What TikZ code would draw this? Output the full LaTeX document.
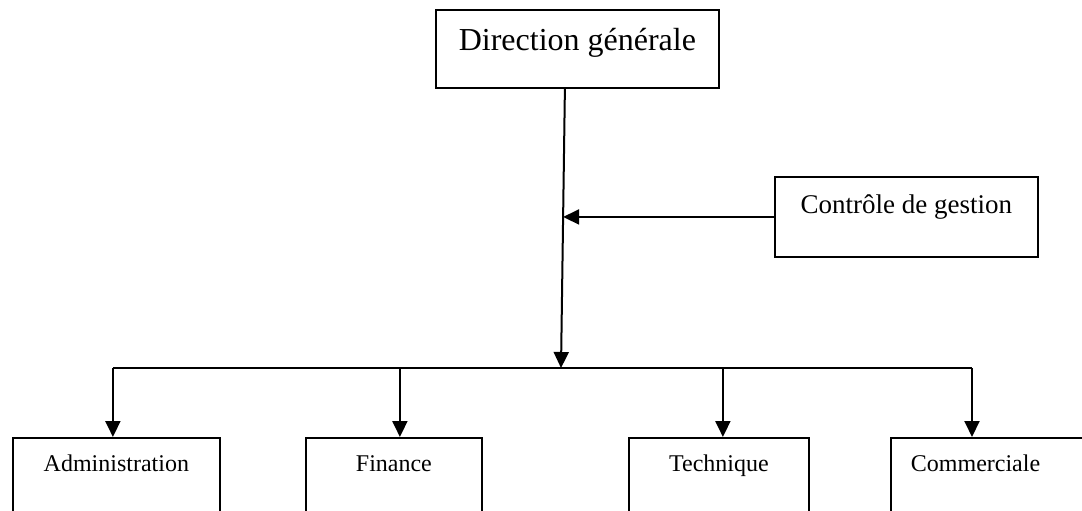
\documentclass[tikz,border=0pt]{standalone}
\usepackage{fontspec}
\setmainfont{Liberation Serif}
\usetikzlibrary{arrows.meta,calc}
\begin{document}
\begin{tikzpicture}[x=1pt,y=-1pt,line width=2pt,
  box/.style={draw,line width=1.8pt,inner sep=0pt,anchor=north west},
  lower/.style={box,text height=34pt,text depth=100pt,font=\fontsize{24}{29}\selectfont},
  arr/.style={-{Triangle[length=16pt,width=15pt]}}]
\useasboundingbox (0,0) rectangle (1082,511);
\clip (0,0) rectangle (1082,511);
\node[box,minimum width=283pt,text height=41pt,text depth=37pt,font=\fontsize{32}{38}\selectfont] (dg) at (435,9) {Direction générale};
\node[box,minimum width=263pt,text height=37pt,text depth=43pt,font=\fontsize{27}{32}\selectfont] (cg) at (774,176) {Contrôle de gestion};
\node[lower,minimum width=207pt] (adm) at (12,437) {Administration};
\node[lower,minimum width=176pt] (fin) at (305,437) {Finance};
\node[lower,minimum width=180pt] (tec) at (628,437) {Technique};
\node[lower,text width=190pt,align=left,inner xsep=20pt] (com) at (890,437) {Commerciale};
\coordinate (top) at ($(dg.south)+(-12.5,0)$);
\coordinate (hub) at (561,368);
\coordinate (meet) at ($(top)!0.459!(hub)$);
\coordinate (pa) at ($(adm.north)+(-3.5,0)$);
\coordinate (pf) at ($(fin.north)+(6,0)$);
\coordinate (pt) at ($(tec.north)+(4,0)$);
\coordinate (pc) at (972,437);
\draw[arr] (top) -- (hub);
\draw[arr] (cg.west |- meet) -- (meet);
\draw (pa |- hub) -- (pc |- hub);
\foreach \p in {pa,pf,pt,pc} \draw[arr] (\p |- hub) -- (\p);
\end{tikzpicture}
\end{document}
